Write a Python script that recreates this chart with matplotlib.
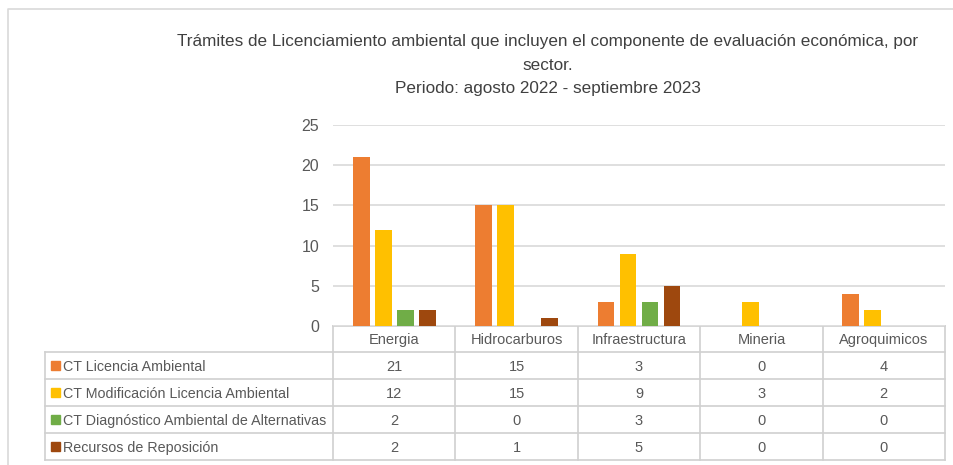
import matplotlib.pyplot as plt
from matplotlib.patches import Rectangle

plt.rcParams['font.family'] = ['Liberation Sans', 'DejaVu Sans']

# data
sectores = ["Energia", "Hidrocarburos", "Infraestructura", "Mineria", "Agroquimicos"]
series = ["CT Licencia Ambiental",
          "CT Modificación Licencia Ambiental",
          "CT Diagnóstico Ambiental de Alternativas",
          "Recursos de Reposición"]
licencia = [21, 15, 3, 0, 4]
modificacion = [12, 15, 9, 3, 2]
diagnostico = [2, 0, 3, 0, 0]
reposicion = [2, 1, 5, 0, 0]
valores = [licencia, modificacion, diagnostico, reposicion]
colores = ["#ED7D31", "#FFC000", "#70AD47", "#9E480E"]
yticks = [0, 5, 10, 15, 20, 25]

titulo = ("Trámites de Licenciamiento ambiental que incluyen el componente de evaluación económica, por\n"
          "sector.\nPeriodo: agosto 2022 - septiembre 2023")

W, H = 954, 465
texto = "#595959"
borde = "#D9D9D9"

fig = plt.figure(figsize=(W / 100, H / 100), dpi=100)

# capa de fondo en pixeles (marco + tabla)
bg = fig.add_axes([0, 0, 1, 1])
bg.set_xlim(0, W)
bg.set_ylim(H, 0)
bg.axis("off")
bg.plot([8, 8, W], [H, 9, 9], color=borde, lw=1.2)

# grafico de barras
x0, x1 = 333, 945
ytop, ybot = 125, 326
ax = fig.add_axes([x0 / W, (H - ybot) / H, (x1 - x0) / W, (ybot - ytop) / H])
ax.set_xlim(-0.5, len(sectores) - 0.5)
ax.set_ylim(0, 25)
ancho = 0.138
paso = 0.18
for i, (vals, c) in enumerate(zip(valores, colores)):
    pos = [k + (i - 1.5) * paso for k in range(len(sectores))]
    ax.bar(pos, vals, width=ancho, color=c, zorder=3)
ax.set_yticks(yticks)
ax.set_xticks([])
ax.grid(axis="y", color=borde, lw=1.2, zorder=0)
for s in ax.spines.values():
    s.set_visible(False)
ax.tick_params(axis="y", length=0, pad=10, labelsize=11.5, labelcolor=texto)

fig.text(548 / W, 1 - 34 / H, titulo, ha="center", va="top", fontsize=12.3,
         color="#404040", linespacing=1.72)

# tabla de datos
filas = [326, 352, 379, 406, 433, 460]
xl = 45
colw = (x1 - x0) / len(sectores)
cols = [x0 + k * colw for k in range(len(sectores) + 1)]
lc = "#D0D0D0"
# lineas horizontales
bg.plot([x0, x1], [filas[0], filas[0]], color=lc, lw=1.2)
for y in filas[1:]:
    bg.plot([xl, x1], [y, y], color=lc, lw=1.2)
# lineas verticales
bg.plot([xl, xl], [filas[1], filas[-1]], color=lc, lw=1.2)
for x in cols:
    bg.plot([x, x], [filas[0], filas[-1]], color=lc, lw=1.2)
# encabezados
for k, s in enumerate(sectores):
    bg.text((cols[k] + cols[k + 1]) / 2, (filas[0] + filas[1]) / 2 + 1, s,
            ha="center", va="center", fontsize=10.5, color=texto)
# filas
for i, (nombre, vals, c) in enumerate(zip(series, valores, colores)):
    yc = (filas[i + 1] + filas[i + 2]) / 2
    bg.add_patch(Rectangle((51, yc - 4.5), 9, 9, color=c))
    bg.text(63, yc + 1, nombre, ha="left", va="center", fontsize=10.3, color=texto)
    for k, v in enumerate(vals):
        bg.text((cols[k] + cols[k + 1]) / 2, yc + 1, str(v), ha="center", va="center",
                fontsize=10.5, color=texto)

fig.savefig("out.png", dpi=100)
